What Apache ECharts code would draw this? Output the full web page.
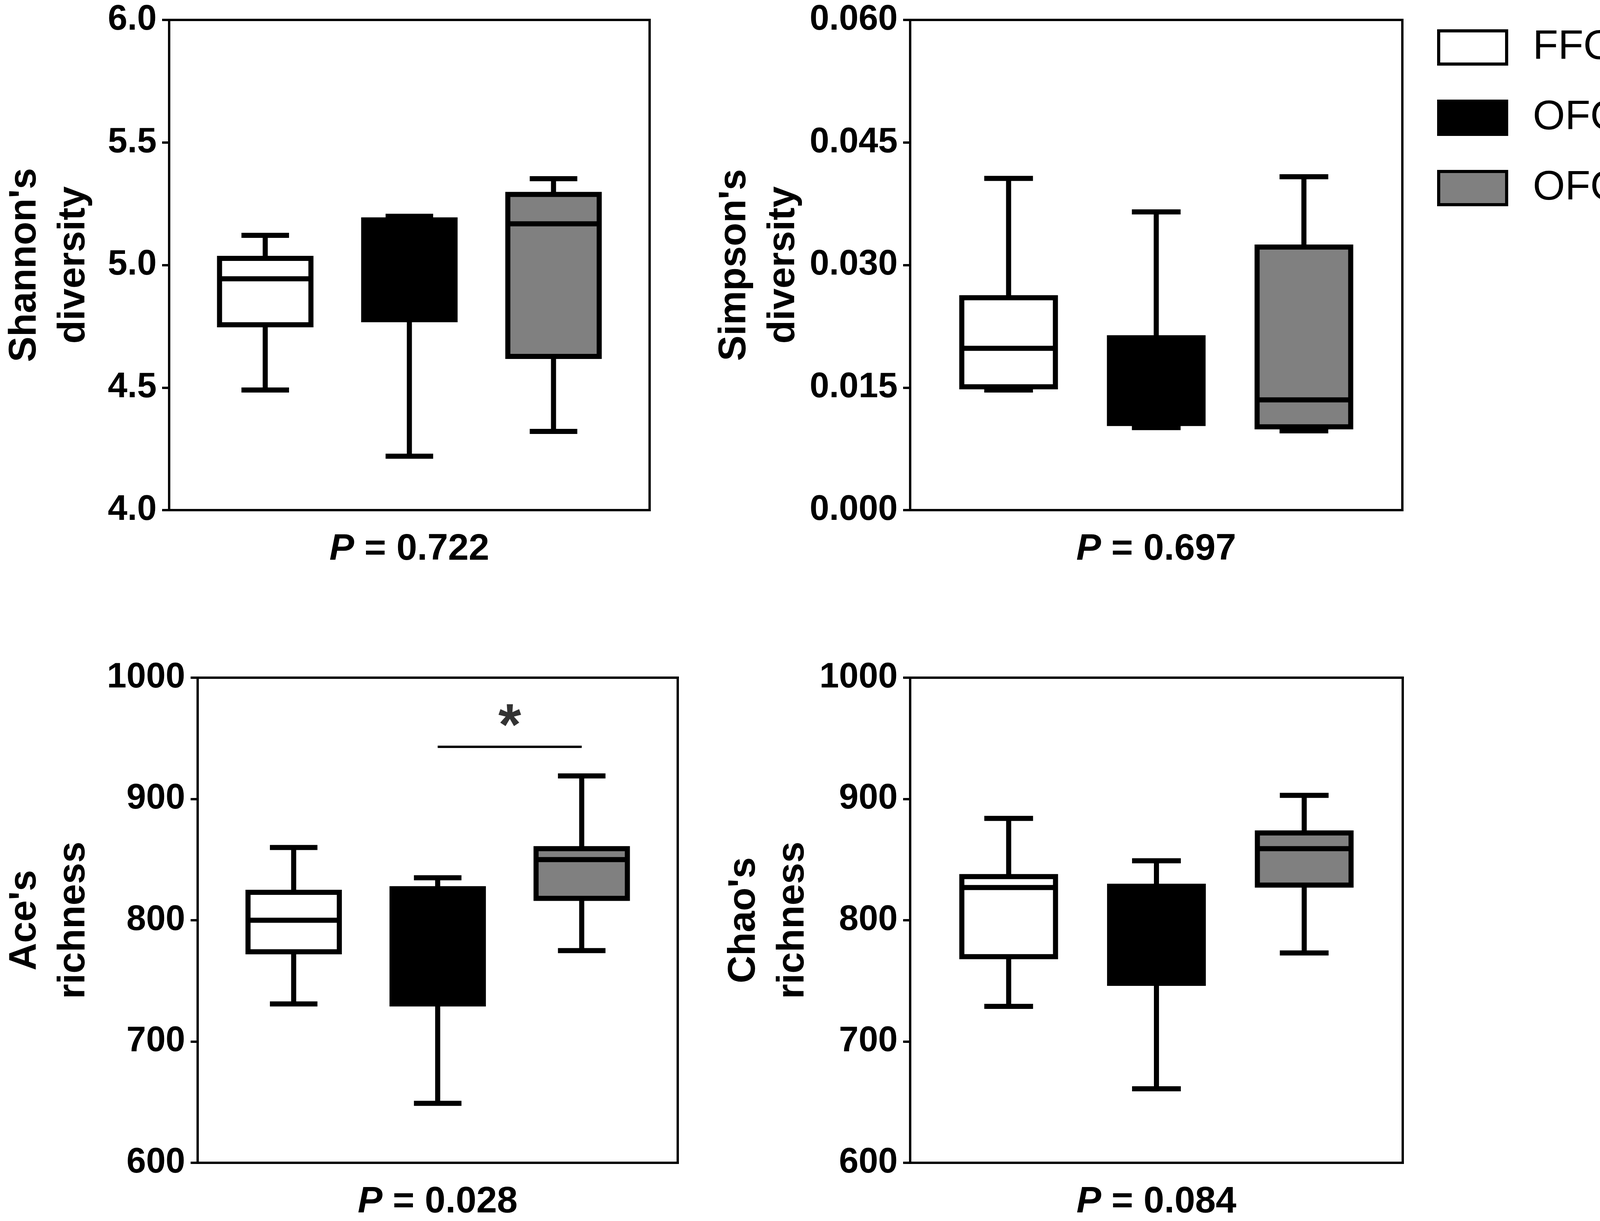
<!DOCTYPE html>
<html>
<head>
<meta charset="utf-8">
<title>Alpha diversity</title>
<script src="https://cdn.jsdelivr.net/npm/echarts@6/dist/echarts.min.js"></script>
<style>
  html, body { margin: 0; padding: 0; background: #fff; }
  #chart { width: 4550px; height: 3126px; }
</style>
</head>
<body>
<div id="chart"></div>
<script>
// groups, in drawing order
const groups = ['FFO', 'OFO', 'OFO/XOS400'];
const groupFill = ['#ffffff', '#000000', '#808080'];

// [min, Q1, median, Q3, max] per group
const shannon = [
  [4.49, 4.756, 4.944, 5.027, 5.121],
  [4.22, 4.777, 5.00, 5.184, 5.199],
  [4.321, 4.627, 5.168, 5.288, 5.352]
];
const simpson = [
  [0.0147, 0.0151, 0.0198, 0.0260, 0.0406],
  [0.0101, 0.0106, 0.0140, 0.0211, 0.0365],
  [0.0097, 0.0102, 0.0135, 0.0322, 0.0408]
];
const ace = [
  [731, 774, 800, 823, 860],
  [649, 731, 790, 826, 835],
  [775, 818, 850, 859, 919]
];
const chao = [
  [729, 770, 827, 836, 884],
  [661, 748, 790, 828, 849],
  [773, 829, 859, 872, 903]
];

const pValues = ['0.722', '0.697', '0.028', '0.084'];
const yTitles = ['Shannon\'s\ndiversity', 'Simpson\'s\ndiversity', 'Ace\'s\nrichness', 'Chao\'s\nrichness'];
const yMin = [4, 0, 600, 600];
const yMax = [6, 0.06, 1000, 1000];
const yStep = [0.5, 0.015, 100, 100];
const yDecimals = [1, 3, 0, 0];

// OFO vs OFO/XOS400 on Ace's richness
const sigBar = { from: 2, to: 3, y: 943 };
const sigStar = { x: 2.5, y: 969, text: '*' };

const panels = [shannon, simpson, ace, chao];
const FONT = '"Liberation Sans", Arial, Helvetica, sans-serif';

const grids = [
  { left: 409, top: 51, width: 1254, height: 1255 },
  { left: 2330, top: 51, width: 1260, height: 1255 },
  { left: 473, top: 1735, width: 1262, height: 1260 },
  { left: 2330, top: 1735, width: 1261, height: 1260 }
];
const titleGap = [182, 256, 255, 238];

const BOX_W = 0.634;   // in category units
const CAP_W = 0.33;
const BOX_LINE = 13;

function renderBox(params, api) {
  const x = api.value(0);
  const pMin = api.coord([x, api.value(1)]);
  const pQ1 = api.coord([x, api.value(2)]);
  const pMed = api.coord([x, api.value(3)]);
  const pQ3 = api.coord([x, api.value(4)]);
  const pMax = api.coord([x, api.value(5)]);
  const bw = api.size([BOX_W, 0])[0];
  const cw = api.size([CAP_W, 0])[0];
  const fill = api.visual('color');
  const line = { stroke: '#000', lineWidth: BOX_LINE };
  const cx = pMed[0];
  return {
    type: 'group',
    children: [
      { type: 'line', shape: { x1: cx, y1: pQ3[1], x2: cx, y2: pMax[1] }, style: line },
      { type: 'line', shape: { x1: cx - cw / 2, y1: pMax[1], x2: cx + cw / 2, y2: pMax[1] }, style: line },
      { type: 'line', shape: { x1: cx, y1: pQ1[1], x2: cx, y2: pMin[1] }, style: line },
      { type: 'line', shape: { x1: cx - cw / 2, y1: pMin[1], x2: cx + cw / 2, y2: pMin[1] }, style: line },
      {
        type: 'rect',
        shape: { x: cx - bw / 2, y: pQ3[1], width: bw, height: pQ1[1] - pQ3[1] },
        style: { fill: fill, stroke: '#000', lineWidth: BOX_LINE }
      },
      { type: 'line', shape: { x1: cx - bw / 2, y1: pMed[1], x2: cx + bw / 2, y2: pMed[1] }, style: line }
    ]
  };
}

const option = {
  animation: false,
  backgroundColor: '#fff',
  textStyle: { fontFamily: FONT, color: '#000' },
  grid: grids.map(function (g) {
    return Object.assign({ show: true, borderColor: '#000', borderWidth: 6, backgroundColor: 'transparent' }, g);
  }),
  xAxis: grids.map(function (g, i) {
    return {
      type: 'value', gridIndex: i, min: 1 / 3, max: 11 / 3,
      axisLine: { show: false }, axisTick: { show: false },
      axisLabel: { show: false }, splitLine: { show: false },
      name: '{i|P} = ' + pValues[i],
      nameLocation: 'middle', nameGap: 53,
      nameTextStyle: {
        fontFamily: FONT, fontSize: 95, fontWeight: 'bold', color: '#000', lineHeight: 95,
        rich: { i: { fontFamily: FONT, fontSize: 95, fontWeight: 'bold', fontStyle: 'italic', color: '#000', lineHeight: 95 } }
      }
    };
  }),
  yAxis: grids.map(function (g, i) {
    return {
      type: 'value', gridIndex: i, min: yMin[i], max: yMax[i], interval: yStep[i],
      axisLine: { show: true, lineStyle: { color: '#000', width: 6 } },
      axisTick: { show: true, length: 18, lineStyle: { color: '#000', width: 6 } },
      splitLine: { show: false },
      axisLabel: {
        margin: 32, fontFamily: FONT, fontSize: 90, fontWeight: 'bold', color: '#000',
        formatter: function (v) { return v.toFixed(yDecimals[i]); }
      },
      name: yTitles[i], nameLocation: 'middle', nameGap: titleGap[i],
      nameTextStyle: { fontFamily: FONT, fontSize: 98, fontWeight: 'bold', color: '#000', lineHeight: 125 }
    };
  }),
  legend: {
    orient: 'vertical', left: 3674, top: 45,
    itemWidth: 174, itemHeight: 85, itemGap: 37,
    icon: 'rect',
    selectedMode: false,
    data: groups,
    itemStyle: { borderColor: '#000', borderWidth: 8 },
    formatter: function (name) {
      return name === 'OFO/XOS400' ? 'OFO/XOS{sub|400}' : name;
    },
    textStyle: {
      fontFamily: FONT, fontSize: 106, color: '#000', lineHeight: 143,
      padding: [0, 0, 0, 62],
      rich: {
        sub: { fontFamily: FONT, fontSize: 70, color: '#000', lineHeight: 143, verticalAlign: 'middle', padding: [73, 0, 0, 0] }
      }
    }
  },
  series: []
};

panels.forEach(function (stats, p) {
  stats.forEach(function (s, gi) {
    option.series.push({
      type: 'custom',
      name: groups[gi],
      xAxisIndex: p, yAxisIndex: p,
      itemStyle: { color: groupFill[gi] },
      renderItem: renderBox,
      encode: { x: 0, y: [1, 2, 3, 4, 5] },
      data: [[gi + 1].concat(s)],
      silent: true
    });
  });
});

option.series.push({
  type: 'line', xAxisIndex: 2, yAxisIndex: 2, silent: true,
  symbol: 'none', lineStyle: { color: '#000', width: 6 },
  data: [[sigBar.from, sigBar.y], [sigBar.to, sigBar.y]]
});
option.series.push({
  type: 'scatter', xAxisIndex: 2, yAxisIndex: 2, silent: true,
  symbolSize: 0,
  label: {
    show: true, position: 'inside', formatter: sigStar.text, offset: [0, 34],
    fontFamily: FONT, fontSize: 150, fontWeight: 'bold', color: '#000'
  },
  data: [[sigStar.x, sigStar.y]]
});

const chart = echarts.init(document.getElementById('chart'), null, { renderer: 'canvas' });
chart.setOption(option);
</script>
</body>
</html>
